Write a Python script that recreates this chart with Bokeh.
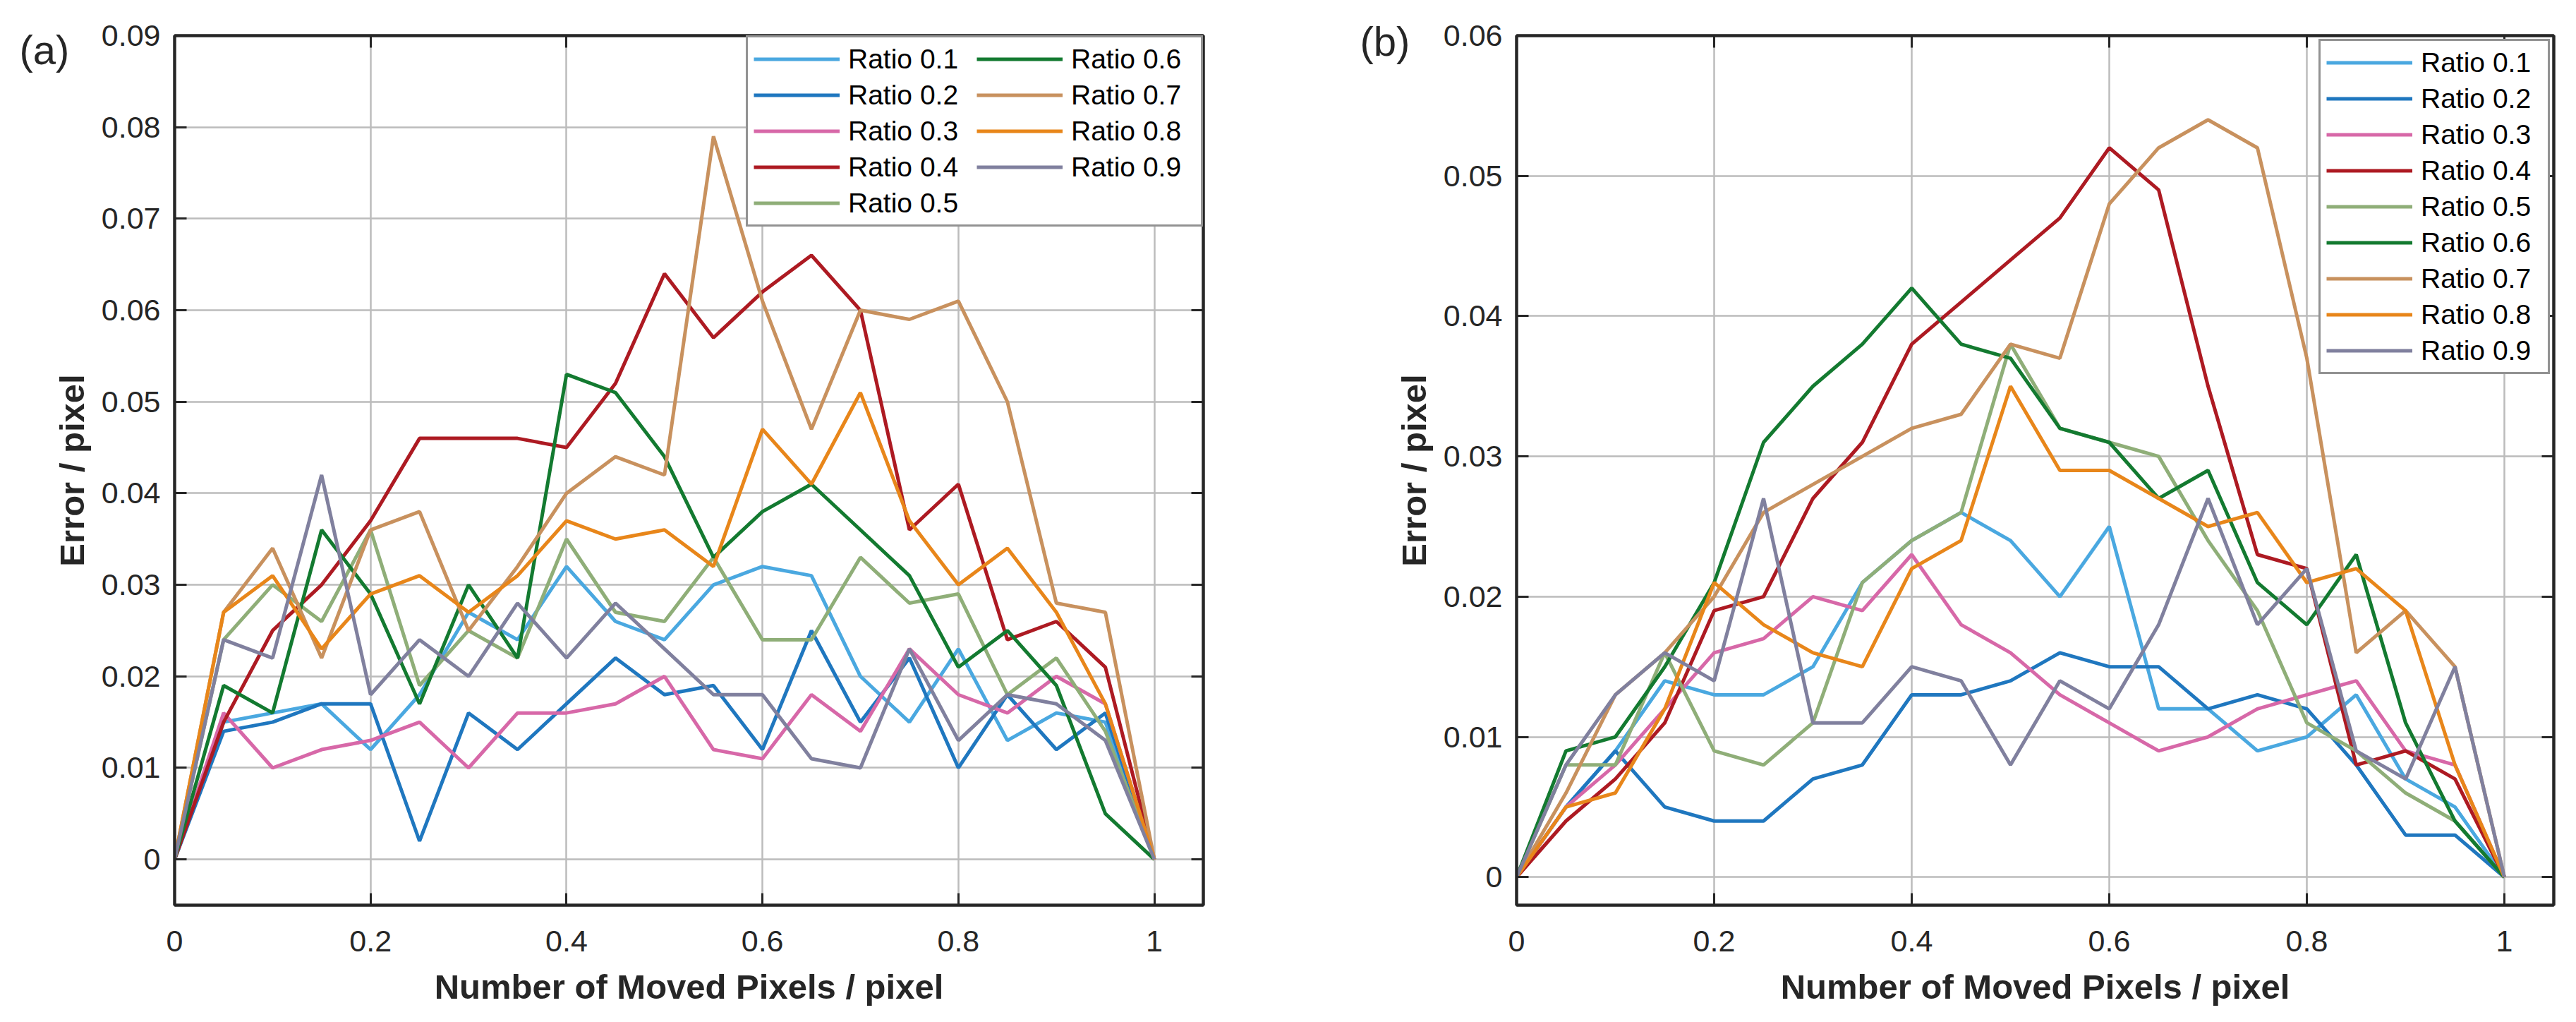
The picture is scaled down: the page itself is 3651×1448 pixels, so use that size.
from bokeh.plotting import figure
from bokeh.models import Range1d, FixedTicker, LinearAxis, Legend, LegendItem, Label
from bokeh.layouts import row
from bokeh.embed import file_html
from bokeh.resources import INLINE

# ---------------- data ----------------
x_vals = [0, 0.05, 0.1, 0.15, 0.2, 0.25, 0.3, 0.35, 0.4, 0.45, 0.5,
          0.55, 0.6, 0.65, 0.7, 0.75, 0.8, 0.85, 0.9, 0.95, 1.0]

series_names = ["Ratio 0.1", "Ratio 0.2", "Ratio 0.3", "Ratio 0.4", "Ratio 0.5",
                "Ratio 0.6", "Ratio 0.7", "Ratio 0.8", "Ratio 0.9"]
series_colors = ["#4aa8e0", "#1f77bf", "#d768a8", "#ad1a22", "#8fae78",
                 "#137a30", "#c8915e", "#e8861a", "#80809e"]

# panel (a)
a_r01 = [0, 0.015, 0.016, 0.017, 0.012, 0.018, 0.027, 0.024, 0.032, 0.026, 0.024,
         0.030, 0.032, 0.031, 0.020, 0.015, 0.023, 0.013, 0.016, 0.015, 0]
a_r02 = [0, 0.014, 0.015, 0.017, 0.017, 0.002, 0.016, 0.012, 0.017, 0.022, 0.018,
         0.019, 0.012, 0.025, 0.015, 0.022, 0.010, 0.018, 0.012, 0.016, 0]
a_r03 = [0, 0.016, 0.010, 0.012, 0.013, 0.015, 0.010, 0.016, 0.016, 0.017, 0.020,
         0.012, 0.011, 0.018, 0.014, 0.023, 0.018, 0.016, 0.020, 0.017, 0]
a_r04 = [0, 0.015, 0.025, 0.030, 0.037, 0.046, 0.046, 0.046, 0.045, 0.052, 0.064,
         0.057, 0.062, 0.066, 0.060, 0.036, 0.041, 0.024, 0.026, 0.021, 0]
a_r05 = [0, 0.024, 0.030, 0.026, 0.036, 0.019, 0.025, 0.022, 0.035, 0.027, 0.026,
         0.033, 0.024, 0.024, 0.033, 0.028, 0.029, 0.018, 0.022, 0.014, 0]
a_r06 = [0, 0.019, 0.016, 0.036, 0.029, 0.017, 0.030, 0.022, 0.053, 0.051, 0.044,
         0.033, 0.038, 0.041, 0.036, 0.031, 0.021, 0.025, 0.019, 0.005, 0]
a_r07 = [0, 0.027, 0.034, 0.022, 0.036, 0.038, 0.025, 0.032, 0.040, 0.044, 0.042,
         0.079, 0.061, 0.047, 0.060, 0.059, 0.061, 0.050, 0.028, 0.027, 0]
a_r08 = [0, 0.027, 0.031, 0.023, 0.029, 0.031, 0.027, 0.031, 0.037, 0.035, 0.036,
         0.032, 0.047, 0.041, 0.051, 0.037, 0.030, 0.034, 0.027, 0.017, 0]
a_r09 = [0, 0.024, 0.022, 0.042, 0.018, 0.024, 0.020, 0.028, 0.022, 0.028, 0.023,
         0.018, 0.018, 0.011, 0.010, 0.023, 0.013, 0.018, 0.017, 0.013, 0]

# panel (b)
b_r01 = [0, 0.005, 0.009, 0.014, 0.013, 0.013, 0.015, 0.021, 0.024, 0.026, 0.024,
         0.020, 0.025, 0.012, 0.012, 0.009, 0.010, 0.013, 0.007, 0.005, 0]
b_r02 = [0, 0.005, 0.009, 0.005, 0.004, 0.004, 0.007, 0.008, 0.013, 0.013, 0.014,
         0.016, 0.015, 0.015, 0.012, 0.013, 0.012, 0.008, 0.003, 0.003, 0]
b_r03 = [0, 0.005, 0.008, 0.012, 0.016, 0.017, 0.020, 0.019, 0.023, 0.018, 0.016,
         0.013, 0.011, 0.009, 0.010, 0.012, 0.013, 0.014, 0.009, 0.008, 0]
b_r04 = [0, 0.004, 0.007, 0.011, 0.019, 0.020, 0.027, 0.031, 0.038, 0.041, 0.044,
         0.047, 0.052, 0.049, 0.035, 0.023, 0.022, 0.008, 0.009, 0.007, 0]
b_r05 = [0, 0.008, 0.008, 0.016, 0.009, 0.008, 0.011, 0.021, 0.024, 0.026, 0.038,
         0.032, 0.031, 0.030, 0.024, 0.019, 0.011, 0.009, 0.006, 0.004, 0]
b_r06 = [0, 0.009, 0.010, 0.015, 0.021, 0.031, 0.035, 0.038, 0.042, 0.038, 0.037,
         0.032, 0.031, 0.027, 0.029, 0.021, 0.018, 0.023, 0.011, 0.004, 0]
b_r07 = [0, 0.006, 0.013, 0.016, 0.020, 0.026, 0.028, 0.030, 0.032, 0.033, 0.038,
         0.037, 0.048, 0.052, 0.054, 0.052, 0.037, 0.016, 0.019, 0.015, 0]
b_r08 = [0, 0.005, 0.006, 0.012, 0.021, 0.018, 0.016, 0.015, 0.022, 0.024, 0.035,
         0.029, 0.029, 0.027, 0.025, 0.026, 0.021, 0.022, 0.019, 0.008, 0]
b_r09 = [0, 0.008, 0.013, 0.016, 0.014, 0.027, 0.011, 0.011, 0.015, 0.014, 0.008,
         0.014, 0.012, 0.018, 0.027, 0.018, 0.022, 0.009, 0.007, 0.015, 0]

a_series = [a_r01, a_r02, a_r03, a_r04, a_r05, a_r06, a_r07, a_r08, a_r09]
b_series = [b_r01, b_r02, b_r03, b_r04, b_r05, b_r06, b_r07, b_r08, b_r09]

x_ticks = [0, 0.2, 0.4, 0.6, 0.8, 1.0]
x_tick_labels = ["0", "0.2", "0.4", "0.6", "0.8", "1"]
a_y_ticks = [0, 0.01, 0.02, 0.03, 0.04, 0.05, 0.06, 0.07, 0.08, 0.09]
a_y_tick_labels = ["0", "0.01", "0.02", "0.03", "0.04", "0.05", "0.06", "0.07", "0.08", "0.09"]
b_y_ticks = [0, 0.01, 0.02, 0.03, 0.04, 0.05, 0.06]
b_y_tick_labels = ["0", "0.01", "0.02", "0.03", "0.04", "0.05", "0.06"]

x_label = "Number of Moved Pixels / pixel"
y_label = "Error / pixel"
panel_tags = ["(a)", "(b)"]

FONT = "Liberation Sans"
INK = "#262626"


def style_axis(ax, show_labels=True):
    ax.axis_line_color = INK
    ax.axis_line_width = 4
    ax.major_tick_in = 17
    ax.major_tick_out = 0
    ax.major_tick_line_color = INK
    ax.major_tick_line_width = 3
    ax.minor_tick_in = 0
    ax.minor_tick_out = 0
    ax.minor_tick_line_color = None
    ax.major_label_text_font = FONT
    if show_labels:
        ax.major_label_text_font_size = "43px"
        ax.major_label_text_color = INK
    else:
        ax.major_label_text_font_size = "0px"
        ax.major_label_text_color = None
        ax.major_label_standoff = 0


def make_panel(width, height, bl, br, bt, bb, ymin, ymax, yticks, ylabels,
               series, nrows, lmargin, lwidth, tag, tag_x, tag_y):
    p = figure(width=width, height=height,
               x_range=Range1d(0, 1.05), y_range=Range1d(ymin, ymax),
               output_backend="svg", toolbar_location=None,
               min_border_left=bl, min_border_right=br,
               min_border_top=bt, min_border_bottom=bb)
    p.background_fill_color = "white"
    p.border_fill_color = "white"
    p.outline_line_color = INK
    p.outline_line_width = 4

    p.xaxis.ticker = FixedTicker(ticks=x_ticks)
    p.yaxis.ticker = FixedTicker(ticks=yticks)
    p.xaxis.major_label_overrides = {t: s for t, s in zip(x_ticks, x_tick_labels)}
    p.yaxis.major_label_overrides = {t: s for t, s in zip(yticks, ylabels)}
    for ax in p.xaxis:
        style_axis(ax)
        ax.major_label_standoff = 36
        ax.axis_label = x_label
        ax.axis_label_standoff = 20
    for ax in p.yaxis:
        style_axis(ax)
        ax.major_label_standoff = 20
        ax.axis_label = y_label
        ax.axis_label_standoff = 12
    for ax in list(p.xaxis) + list(p.yaxis):
        ax.axis_label_text_font = FONT
        ax.axis_label_text_font_style = "bold"
        ax.axis_label_text_font_size = "49px"
        ax.axis_label_text_color = INK

    top_ax = LinearAxis(ticker=FixedTicker(ticks=x_ticks))
    style_axis(top_ax, show_labels=False)
    p.add_layout(top_ax, "above")
    right_ax = LinearAxis(ticker=FixedTicker(ticks=yticks))
    style_axis(right_ax, show_labels=False)
    p.add_layout(right_ax, "right")

    p.xgrid.grid_line_color = "#bcbcbc"
    p.xgrid.grid_line_width = 2.5
    p.ygrid.grid_line_color = "#bcbcbc"
    p.ygrid.grid_line_width = 2.5

    items = []
    for name, color, ys in zip(series_names, series_colors, series):
        r = p.line(x_vals, ys, line_color=color, line_width=5)
        items.append(LegendItem(label=name, renderers=[r]))

    legend = Legend(items=items, location="top_right", nrows=nrows,
                    margin=lmargin, padding=8, spacing=6,
                    glyph_width=122, glyph_height=45, label_height=45,
                    label_width=lwidth, label_standoff=12,
                    label_text_font=FONT, label_text_font_size="39px",
                    label_text_color="black",
                    border_line_color=INK, border_line_width=3.5,
                    background_fill_color="white", background_fill_alpha=1.0)
    p.add_layout(legend)

    # panel tag, in its own side panel at the far left (not clipped to the frame)
    p.add_layout(Label(x=tag_x, y=tag_y, x_units="screen", y_units="screen",
                       text=tag, text_font=FONT, text_font_size="58px",
                       text_color=INK, text_align="left", text_baseline="top"),
                 "left")
    return p


pa = make_panel(1830, 1432, 244, 125, 50, 150, -0.005, 0.09,
                a_y_ticks, a_y_tick_labels, a_series, 5, 0, 176,
                panel_tags[0], 27, 1245)
pb = make_panel(1805, 1432, 319, 16, 46, 146, -0.002, 0.06,
                b_y_ticks, b_y_tick_labels, b_series, 9, 5, 172,
                panel_tags[1], 25, 1257)

layout = row(pa, pb)
open("out.html", "w").write(file_html(layout, INLINE))
